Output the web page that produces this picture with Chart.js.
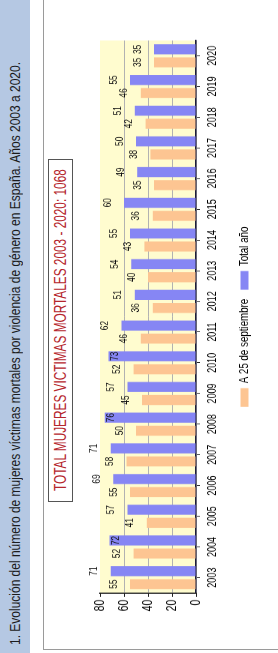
<!DOCTYPE html>
<html>
<head>
<meta charset="utf-8">
<script src="https://cdn.jsdelivr.net/npm/chart.js@4"></script>
<style>
  html, body { margin: 0; padding: 0; background: #fff; }
  body { width: 278px; height: 653px; overflow: hidden; position: relative; font-family: "Liberation Sans", Arial, sans-serif; }
  /* the whole figure is laid out landscape, then turned a quarter left */
  #sheet { position: absolute; left: 0; top: 0; width: 653px; height: 278px;
           transform-origin: 0 0; transform: translate(0, 653px) rotate(-90deg); }
  #titleBar { position: absolute; left: 0; top: 0; width: 653px; height: 30px; background: #b5c8e3; }
  #titleBar span { position: absolute; left: 8px; top: 7px; font-size: 14px; color: #1b1b1b;
                   white-space: nowrap; transform-origin: 0 50%; }
  #frame { position: absolute; left: 3px; top: 43px; width: 700px; height: 260px;
           border-left: 1px solid #9a9a9a; border-top: 1px solid #9a9a9a; }
  #totalBox { position: absolute; left: 151px; top: 48px; width: 341px; height: 23px;
              border: 1px solid #555; background: #fff; overflow: hidden; }
  #totalBox span { position: absolute; left: 50%; top: 3px; font-size: 16px; color: #b5262d;
                   white-space: nowrap; transform-origin: 0 50%; }
  #chart { position: absolute; left: 0; top: 75px; }
</style>
</head>
<body>
<div id="sheet">
  <div id="titleBar"><span id="titleText">1. Evolución del número de mujeres víctimas mortales por violencia de género en España. Años 2003 a 2020.</span></div>
  <div id="frame"></div>
  <div id="totalBox"><span id="totalText">TOTAL MUJERES VICTIMAS MORTALES 2003 - 2020: 1068</span></div>
  <canvas id="chart" width="871" height="203" style="width:653px;height:203px"></canvas>
</div>
<script>
// data
const years = ['2003', '2004', '2005', '2006', '2007', '2008', '2009', '2010', '2011',
               '2012', '2013', '2014', '2015', '2016', '2017', '2018', '2019', '2020'];
const hastaSeptiembre = [55, 52, 41, 55, 58, 50, 45, 52, 46, 36, 40, 43, 36, 35, 38, 42, 46, 35];
const totalAnio = [71, 72, 57, 69, 71, 76, 57, 73, 62, 51, 54, 55, 60, 49, 50, 51, 55, 35];
const seriesNames = ['A 25 de septiembre', 'Total año'];
const valueMin = 0;
const valueMax = 80;
const valueStep = 20;

// squeeze a line of html text into a given width
function fitText(el, width) {
    const w = el.offsetWidth;
    const s = width / w;
    if (el.parentNode.id === 'totalBox') {
        el.style.transform = 'translateX(' + (-width / 2) + 'px) scaleX(' + s + ')';
    } else {
        el.style.transform = 'scaleX(' + s + ')';
    }
}
fitText(document.getElementById('titleText'), 583);
fitText(document.getElementById('totalText'), 322);

Chart.defaults.font.family = '"Liberation Sans", Arial, sans-serif';
Chart.defaults.color = '#000';

// pale yellow plot background
const plotBackground = {
    id: 'plotBackground',
    beforeDraw(chart) {
        const {ctx, chartArea: a} = chart;
        ctx.save();
        ctx.fillStyle = '#fffccf';
        ctx.fillRect(a.left, a.top, a.right - a.left, a.bottom - a.top);
        ctx.restore();
    }
};

// value labels above each bar, pushed inside the bar when there is no room
const barValues = {
    id: 'barValues',
    afterDatasetsDraw(chart) {
        const {ctx, chartArea: a} = chart;
        ctx.save();
        ctx.font = '11px "Liberation Sans", Arial, sans-serif';
        ctx.fillStyle = '#111';
        ctx.textAlign = 'center';
        chart.data.datasets.forEach((ds, i) => {
            chart.getDatasetMeta(i).data.forEach((bar, j) => {
                const txt = String(ds.data[j]);
                if (bar.y - 21 < a.top - 11) {
                    ctx.textBaseline = 'top';
                    ctx.fillText(txt, bar.x, bar.y + 1);
                } else {
                    ctx.textBaseline = 'bottom';
                    ctx.fillText(txt, bar.x, bar.y - 11);
                }
            });
        });
        ctx.restore();
    }
};

new Chart(document.getElementById('chart'), {
    type: 'bar',
    data: {
        labels: years,
        datasets: [{
            label: seriesNames[0],
            data: hastaSeptiembre,
            backgroundColor: '#fdc592',
            categoryPercentage: 0.85,
            barPercentage: 0.77
        }, {
            label: seriesNames[1],
            data: totalAnio,
            backgroundColor: '#8686f4',
            categoryPercentage: 0.85,
            barPercentage: 0.77
        }]
    },
    options: {
        responsive: false,
        animation: false,
        layout: {
            padding: { left: 31, right: 54, top: 25, bottom: 17 }
        },
        plugins: {
            tooltip: { enabled: false },
            legend: {
                position: 'bottom',
                fullSize: false,
                labels: {
                    boxWidth: 25,
                    boxHeight: 8,
                    padding: 12,
                    font: { size: 13 }
                }
            }
        },
        scales: {
            x: {
                grid: {
                    offset: false,
                    drawOnChartArea: false,
                    tickLength: 4,
                    color: '#222'
                },
                border: { color: '#1c1c3a', width: 1.5 },
                ticks: { font: { size: 12 }, padding: 5, maxRotation: 0 },
                afterFit(scale) { scale.height = 30; }
            },
            y: {
                min: valueMin,
                max: valueMax,
                ticks: { stepSize: valueStep, font: { size: 14 }, padding: 4 },
                grid: {
                    color: ctx => (ctx.tick && ctx.tick.value === valueMax) ? 'rgba(0,0,0,0)' : '#b2b2b2',
                    tickColor: '#222',
                    tickLength: 5
                },
                border: { color: '#222', width: 1.5 },
                afterFit(scale) { scale.width = 49; }
            }
        }
    },
    plugins: [plotBackground, barValues]
});
</script>
</body>
</html>
